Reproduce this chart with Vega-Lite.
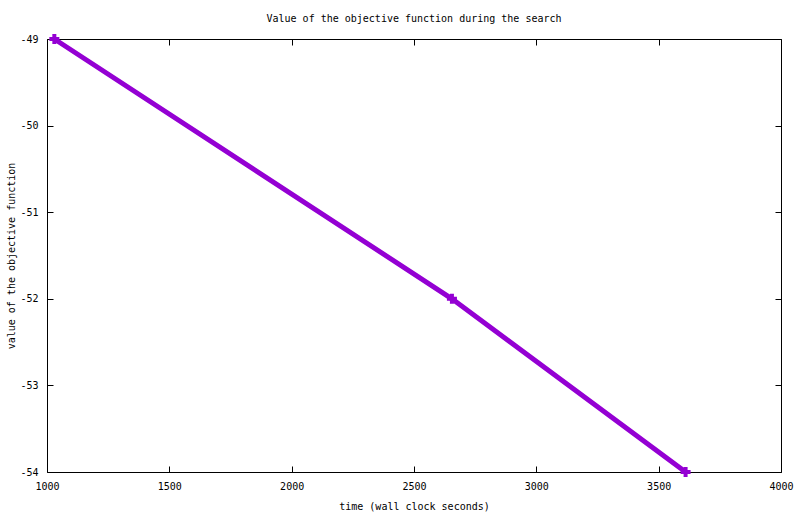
{
  "$schema": "https://vega.github.io/schema/vega-lite/v6.json",
  "autosize": "none",
  "width": 734,
  "height": 433,
  "padding": {"left": 47, "top": 39, "right": 19, "bottom": 42},
  "background": "white",
  "title": {
    "text": "Value of the objective function during the search",
    "font": "DejaVu Sans Mono",
    "fontSize": 10,
    "fontWeight": "normal",
    "color": "black",
    "anchor": "middle",
    "offset": 5
  },
  "view": {"stroke": "black", "strokeWidth": 1},
  "data": {
    "values": [
      {"time": 1030, "value": -49},
      {"time": 2655, "value": -52},
      {"time": 3610, "value": -54}
    ]
  },
  "layer": [
    {
      "mark": {"type": "line", "color": "#9400D3", "strokeWidth": 5},
      "encoding": {
        "x": {
          "field": "time",
          "type": "quantitative",
          "title": "time (wall clock seconds)",
          "scale": {"domain": [1000, 4000], "nice": false, "zero": false},
          "axis": {
            "orient": "bottom",
            "values": [1000, 1500, 2000, 2500, 3000, 3500, 4000],
            "labelExpr": "'' + datum.value",
            "offset": -6,
            "tickSize": 6,
            "labelPadding": 9,
            "titlePadding": 10
          }
        },
        "y": {
          "field": "value",
          "type": "quantitative",
          "title": "value of the objective function",
          "scale": {"domain": [-54, -49], "nice": false, "zero": false},
          "axis": {
            "orient": "left",
            "values": [-54, -53, -52, -51, -50, -49],
            "labelExpr": "'' + datum.value",
            "offset": -6,
            "tickSize": 6,
            "labelPadding": 9,
            "titlePadding": 3
          }
        }
      }
    },
    {
      "mark": {"type": "point", "shape": "cross", "filled": true, "color": "#9400D3", "size": 100, "opacity": 1},
      "encoding": {
        "x": {
          "field": "time",
          "type": "quantitative",
          "axis": {
            "orient": "top",
            "values": [1000, 1500, 2000, 2500, 3000, 3500, 4000],
            "labels": false,
            "title": null,
            "offset": -6,
            "tickSize": 6
          }
        },
        "y": {
          "field": "value",
          "type": "quantitative",
          "axis": {
            "orient": "right",
            "values": [-54, -53, -52, -51, -50, -49],
            "labels": false,
            "title": null,
            "offset": -6,
            "tickSize": 6
          }
        }
      }
    }
  ],
  "resolve": {"axis": {"x": "independent", "y": "independent"}},
  "config": {
    "axis": {
      "grid": false,
      "domain": false,
      "labelFlush": false,
      "tickColor": "black",
      "labelColor": "black",
      "titleColor": "black",
      "labelFont": "DejaVu Sans Mono",
      "titleFont": "DejaVu Sans Mono",
      "labelFontSize": 10,
      "titleFontSize": 10,
      "titleFontWeight": "normal"
    }
  }
}
